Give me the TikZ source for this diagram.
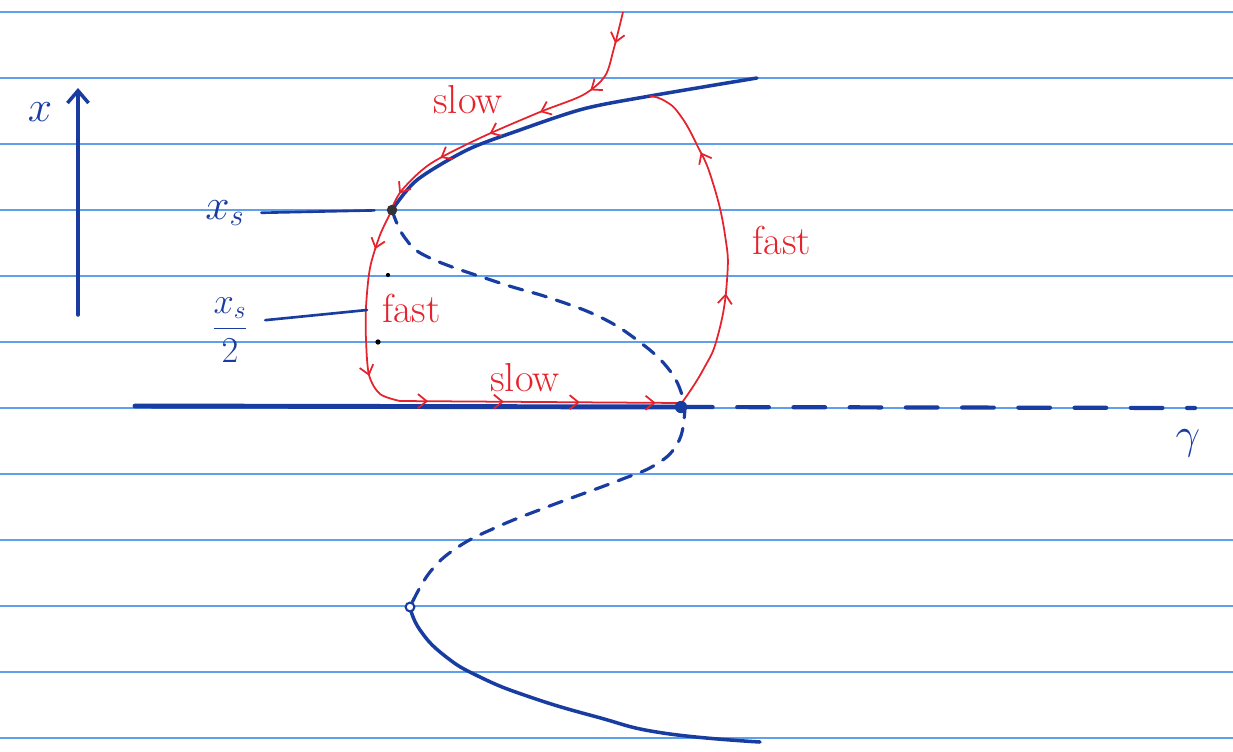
\documentclass[tikz,border=0pt]{standalone}
\usepackage{amsmath}
\usetikzlibrary{arrows.meta,decorations.markings}
\definecolor{inkblue}{RGB}{25,60,160}
\definecolor{inkred}{RGB}{230,35,45}
\definecolor{ruled}{RGB}{95,160,235}
\begin{document}
\begin{tikzpicture}[x=0.02cm,y=-0.02cm,
  ruling/.style={ruled,line width=1.5pt},
  pen/.style={inkblue,line width=2pt,line cap=round},
  redpen/.style={inkred,line width=1pt,line join=round},
  flowmarks/.style n args={3}{decoration={markings,mark=between positions #1 and #2 step #3 with {\arrow{Straight Barb[length=5pt,width=8pt]}}},postaction={decorate}},
  redtext/.style={inkred,font=\fontsize{23}{26}\selectfont},
  bluetext/.style={inkblue,font=\fontsize{24}{28}\selectfont}]
        \useasboundingbox[fill=white] (0,0) rectangle (1233,751);
        % ruled paper
        \foreach \y in {12,78,...,738} \draw[ruling] (0,\y) -- (1233,\y);
        \coordinate (fold) at (392,210);
        \coordinate (lowfold) at (410,607);
        \coordinate (cross) at (681,407);
        \coordinate (leftmid) at (367,310);
        % axes
        \draw[pen,-{Straight Barb[length=7pt,width=12pt]}] (78,315) -- (78,88);
        \node[bluetext] (xlabel) at (40,112) {$x$};
        \draw[pen,line width=2.8pt] (135,406) -- (cross);
        \draw[pen,line width=2.4pt,dash pattern=on 18pt off 14pt] (cross) -- (1195,408);
        \node[bluetext] (gammalabel) at (1188,443) {$\gamma$};
        % branches
        \draw[pen] plot[smooth] coordinates {(fold) (417,180) (467,150) (517,131) (583,109) (650,96) (757,78)};
        \draw[pen,line width=1.8pt,dash pattern=on 8pt off 6pt] plot[smooth,tension=0.7] coordinates {(fold) (405,238) (430,258) (500,283) (550,298) (600,317) (637,340) (667,367) (682,395) (684,420) (676,446) (655,465) (620,480) (547,507) (497,527) (458,547) (430,572) (lowfold)};
        \draw[pen] plot[smooth,tension=0.8] coordinates {(lowfold) (420,630) (445,656) (480,677) (530,697) (597,717) (663,733) (760,742)};
        % relaxation cycle
        \draw[redpen,flowmarks={0.1}{0.96}{0.17}] plot[smooth] coordinates {(623,12) (614,48) (605,76) (583,95) (540,112) (480,138) (430,164) (402,190) (392,208)};
        \draw[redpen,flowmarks={0.2}{0.85}{0.6}] plot[smooth] coordinates {(fold) (380,235) (370,268) (366,307) (366,340) (369,375) (380,394) (400,401)};
        \draw[redpen,flowmarks={0.1}{0.99}{0.27}] (400,401) -- (681,403);
        \draw[redpen,flowmarks={0.35}{0.8}{0.42}] plot[smooth,tension=0.8] coordinates {(681,404) (703,370) (718,335) (727,280) (725,235) (712,180) (697,145) (680,115) (665,101) (650,96)};
        \fill[black!80] (fold) circle (3pt);
        \fill[inkblue] (cross) circle (3.5pt);
        \draw[pen,line width=1.2pt,fill=white] (lowfold) circle (2.5pt);
        \fill (388,275) circle (1.2pt);
        \fill (378,342) circle (1.5pt);
        % labels
        \node[bluetext] (xs) at (225,213) {$x_s$};
        \node[bluetext,font=\fontsize{20}{24}\selectfont] (xshalf) at (230,330) {$\dfrac{x_s}{2}$};
        \draw[pen,line width=1.5pt,shorten <=6pt,shorten >=10pt] (xs.east) -- (fold);
        \draw[pen,line width=1.5pt,shorten <=6pt] ([yshift=5pt]xshalf.east) -- (leftmid);
        \node[redtext] (slowtop) at (468,100) {slow};
        \node[redtext,anchor=west] (fastleft) at (376,308) {fast};
        \node[redtext] (slowbottom) at (525,378) {slow};
        \node[redtext] (fastright) at (782,240) {fast};
\end{tikzpicture}
\end{document}
